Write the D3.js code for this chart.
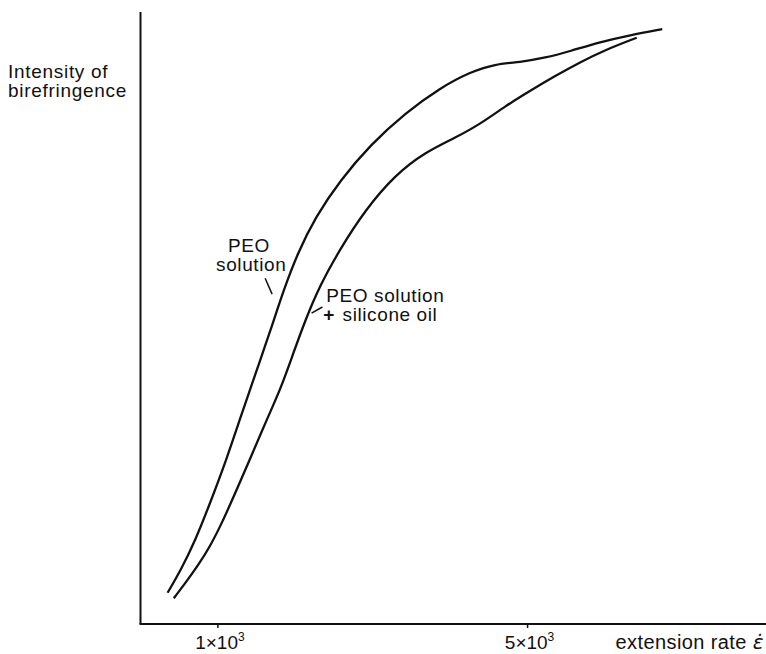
<!DOCTYPE html>
<html lang="en">
<head>
    <meta charset="UTF-8">
    <title>Birefringence vs extension rate</title>
    <script src="https://d3js.org/d3.v7.min.js"></script>
    <style>
        body { margin: 0; background: #fff; }
        text { font-family: "Liberation Sans", Arial, Helvetica, sans-serif; fill: #111; }
    </style>
</head>
<body>
<script>
    // extension rate in units of 10^3, intensity in arbitrary units (0-100)
    var peoRate = [0.35, 0.52, 0.71, 0.90, 1.10, 1.29, 1.48, 1.68, 1.85, 2.03, 2.26, 2.58, 2.97, 3.42, 3.87, 4.26, 4.58, 4.90, 5.23, 5.55, 5.94, 6.32, 6.74];
    var peoIntensity = [5.1, 8.8, 13.7, 19.8, 26.5, 33.7, 40.7, 48.0, 54.6, 60.6, 66.5, 72.5, 78.3, 83.5, 87.6, 90.2, 91.5, 91.8, 92.5, 93.6, 95.1, 96.2, 97.2];

    var oilRate = [0.43, 0.58, 0.74, 0.90, 1.06, 1.23, 1.42, 1.61, 1.81, 1.97, 2.13, 2.32, 2.58, 2.90, 3.29, 3.68, 4.06, 4.39, 4.71, 5.03, 5.35, 5.68, 6.00, 6.41];
    var oilIntensity = [4.2, 6.7, 9.5, 12.7, 16.7, 21.6, 27.1, 32.8, 38.4, 44.1, 49.7, 55.4, 61.3, 67.6, 73.4, 77.1, 79.4, 81.7, 84.6, 87.1, 89.5, 91.8, 93.8, 95.8];

    var tickValues = [1, 5];
    var tickLabels = ["1\u00d710", "5\u00d710"];

    var width = 766, height = 654;
    var svg = d3.select("body").append("svg")
        .attr("width", width)
        .attr("height", height);

    var x = d3.scaleLinear().domain([0, 8.08]).range([140.5, 766]);
    var y = d3.scaleLinear().domain([0, 100]).range([624, 12]);

    // axes (plain lines, no arrow heads)
    svg.append("line")
        .attr("x1", x(0)).attr("x2", x(0))
        .attr("y1", y(100)).attr("y2", y(0))
        .attr("stroke", "#111").attr("stroke-width", 2);
    svg.append("line")
        .attr("x1", x(0) - 1).attr("x2", x(8.08))
        .attr("y1", y(0)).attr("y2", y(0))
        .attr("stroke", "#111").attr("stroke-width", 2);

    // ticks + labels
    tickValues.forEach(function (v, i) {
        svg.append("line")
            .attr("x1", x(v)).attr("x2", x(v))
            .attr("y1", y(0)).attr("y2", y(0) + 4)
            .attr("stroke", "#111").attr("stroke-width", 1.5);
        var t = svg.append("text")
            .attr("x", x(v) + 2)
            .attr("y", 649)
            .attr("text-anchor", "middle")
            .style("font-size", "19px");
        t.append("tspan").text(tickLabels[i]);
        t.append("tspan").attr("dy", -8).style("font-size", "12px").text("3");
    });

    // x axis title
    var xt = svg.append("text")
        .attr("x", 764)
        .attr("y", 649)
        .attr("text-anchor", "end")
        .style("font-size", "20px")
        .style("letter-spacing", "0.4px");
    xt.append("tspan").text("extension rate ");
    xt.append("tspan")
        .style("font-family", "'DejaVu Sans', sans-serif")
        .style("font-style", "italic")
        .text("\u03b5\u0307");

    // y axis title
    var yt = svg.append("text")
        .attr("x", 8)
        .attr("y", 78)
        .style("font-size", "19px")
        .style("letter-spacing", "0.7px");
    yt.append("tspan").attr("x", 8).text("Intensity of");
    yt.append("tspan").attr("x", 8).attr("dy", 19).text("birefringence");

    // curves
    var line = d3.line()
        .x(function (d) { return x(d[0]); })
        .y(function (d) { return y(d[1]); })
        .curve(d3.curveBasis);

    svg.append("path")
        .datum(d3.zip(peoRate, peoIntensity))
        .attr("fill", "none")
        .attr("stroke", "#111")
        .attr("stroke-width", 2.3)
        .attr("d", line);

    svg.append("path")
        .datum(d3.zip(oilRate, oilIntensity))
        .attr("fill", "none")
        .attr("stroke", "#111")
        .attr("stroke-width", 2.3)
        .attr("d", line);

    // labels with leader lines
    var lab1 = svg.append("text")
        .attr("text-anchor", "middle")
        .style("font-size", "19px")
        .style("letter-spacing", "0.6px");
    lab1.append("tspan").attr("x", x(1.4)).attr("y", y(60.8)).text("PEO");
    lab1.append("tspan").attr("x", x(1.43)).attr("y", y(57.7)).text("solution");
    svg.append("line")
        .attr("x1", x(1.61)).attr("y1", y(56.5))
        .attr("x2", x(1.70)).attr("y2", y(53.9))
        .attr("stroke", "#111").attr("stroke-width", 1.5);

    var lab2 = svg.append("text")
        .style("font-size", "19px")
        .style("letter-spacing", "0.6px");
    lab2.append("tspan").attr("x", x(2.40)).attr("y", y(52.6)).text("PEO solution");
    lab2.append("tspan").attr("x", x(2.36)).attr("y", y(49.5))
        .style("font-weight", "bold").text("+");
    lab2.append("tspan").attr("x", x(2.61)).attr("y", y(49.5)).text("silicone oil");
    svg.append("line")
        .attr("x1", x(2.21)).attr("y1", y(50.8))
        .attr("x2", x(2.35)).attr("y2", y(51.8))
        .attr("stroke", "#111").attr("stroke-width", 1.5);
</script>
</body>
</html>
